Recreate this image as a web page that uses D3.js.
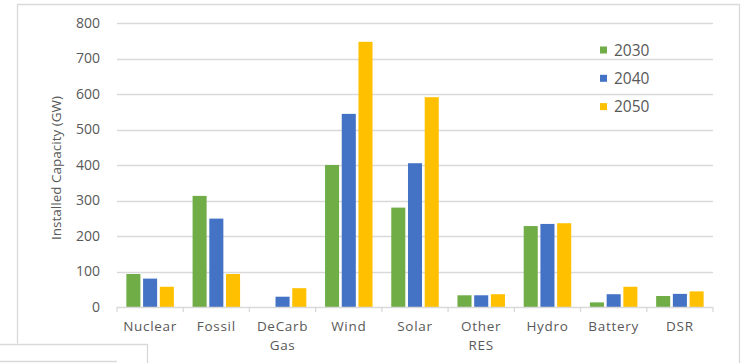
<!DOCTYPE html>
<html>
<head>
<meta charset="utf-8">
<script src="https://cdn.jsdelivr.net/npm/d3@7/dist/d3.min.js"></script>
<style>
  html, body { margin: 0; padding: 0; background: #fff; }
  svg { display: block; font-family: "Open Sans", "DejaVu Sans", sans-serif; }
</style>
</head>
<body>
<svg id="chart" width="744" height="363"></svg>
<script>
// Installed capacity by technology (GW) for each scenario year
const categories = [["Nuclear"], ["Fossil"], ["DeCarb", "Gas"], ["Wind"], ["Solar"], ["Other", "RES"], ["Hydro"], ["Battery"], ["DSR"]];
const seriesNames = ["2030", "2040", "2050"];
const values2030 = [93, 313, 0, 400, 280, 33, 228, 13, 31];
const values2040 = [80, 249, 29, 544, 405, 33, 234, 36, 37];
const values2050 = [57, 93, 53, 747, 591, 36, 236, 57, 44];
const seriesColors = ["#70AD47", "#4472C4", "#FFC000"];
const yTicks = [0, 100, 200, 300, 400, 500, 600, 700, 800];

const seriesValues = [values2030, values2040, values2050];
const catKeys = categories.map(c => c.join(" "));

const svg = d3.select("#chart");
const textColor = "#595959";
const lineColor = "#d9d9d9";

// Chart frame and neighbouring box outlines
svg.append("path")
  .attr("d", "M17.5,343.5 V4.5 H739.5 V363")
  .attr("fill", "none").attr("stroke", lineColor).attr("stroke-width", 1.3);
svg.append("path")
  .attr("d", "M0,344.5 H147.5 V363")
  .attr("fill", "none").attr("stroke", lineColor).attr("stroke-width", 1.3);
svg.append("path")
  .attr("d", "M0,361.5 H117")
  .attr("fill", "none").attr("stroke", lineColor).attr("stroke-width", 1.3);

const plot = { left: 117, right: 713, top: 23, bottom: 307 };

const x0 = d3.scaleBand().domain(catKeys).range([plot.left, plot.right]).padding(0);
const x1 = d3.scaleBand().domain(seriesNames).range([0, x0.bandwidth()])
  .paddingInner(0.16).paddingOuter(0.56);
const y = d3.scaleLinear().domain([0, 800]).range([plot.bottom, plot.top]);

// Gridlines
svg.append("g").selectAll("line")
  .data(yTicks.filter(t => t > 0))
  .join("line")
  .attr("x1", plot.left).attr("x2", plot.right)
  .attr("y1", d => Math.round(y(d)) + 0.5).attr("y2", d => Math.round(y(d)) + 0.5)
  .attr("stroke", lineColor).attr("stroke-width", 1.3);

// Y axis labels
const yAxis = d3.axisLeft(y).tickValues(yTicks).tickSize(0).tickPadding(17);
const gy = svg.append("g").attr("transform", `translate(${plot.left},0)`).call(yAxis);
gy.select(".domain").remove();
gy.selectAll("text")
  .attr("fill", textColor)
  .style("font-size", "14px")
  .style("font-family", "'Open Sans', sans-serif");

// Bars
const groups = svg.append("g").selectAll("g")
  .data(catKeys)
  .join("g")
  .attr("transform", d => `translate(${x0(d)},0)`);

groups.selectAll("rect")
  .data((d, i) => seriesNames.map((s, j) => ({ s, v: seriesValues[j][i], j })))
  .join("rect")
  .attr("x", d => x1(d.s))
  .attr("width", x1.bandwidth())
  .attr("y", d => y(d.v))
  .attr("height", d => y(0) - y(d.v))
  .attr("fill", d => seriesColors[d.j]);

// X axis line with ticks at category boundaries
const xAxisG = svg.append("g");
xAxisG.append("line")
  .attr("x1", plot.left).attr("x2", plot.right)
  .attr("y1", plot.bottom + 0.5).attr("y2", plot.bottom + 0.5)
  .attr("stroke", lineColor).attr("stroke-width", 1.3);
const boundaries = catKeys.map(k => x0(k)).concat([plot.right]);
xAxisG.selectAll("line.tick")
  .data(boundaries)
  .join("line")
  .attr("class", "tick")
  .attr("x1", d => d).attr("x2", d => d)
  .attr("y1", plot.bottom).attr("y2", plot.bottom + 5)
  .attr("stroke", lineColor).attr("stroke-width", 1.3);

// Category labels, one text element per line
const labelLines = [];
categories.forEach((lines, i) => {
  lines.forEach((t, k) => labelLines.push({ t, k, cx: x0(catKeys[i]) + x0.bandwidth() / 2 }));
});
svg.append("g").selectAll("text")
  .data(labelLines)
  .join("text")
  .attr("x", d => d.cx)
  .attr("y", d => 331 + d.k * 18.5)
  .attr("text-anchor", "middle")
  .attr("fill", textColor)
  .style("font-size", "13.5px")
  .style("letter-spacing", "0.7px")
  .text(d => d.t);

// Y axis title
svg.append("text")
  .attr("transform", `translate(61,${(plot.top + plot.bottom) / 2 + 3}) rotate(-90)`)
  .attr("text-anchor", "middle")
  .attr("fill", textColor)
  .style("font-size", "13.5px")
  .text("Installed Capacity (GW)");

// Legend
const legend = svg.append("g").selectAll("g")
  .data(seriesNames)
  .join("g")
  .attr("transform", (d, i) => `translate(600,${50 + i * 28.3})`);
legend.append("rect")
  .attr("x", 0).attr("y", -3.5).attr("width", 7).attr("height", 7)
  .attr("fill", (d, i) => seriesColors[i]);
legend.append("text")
  .attr("x", 14).attr("y", 5.5)
  .attr("fill", textColor)
  .style("font-size", "15.5px")
  .text(d => d);
</script>
</body>
</html>
